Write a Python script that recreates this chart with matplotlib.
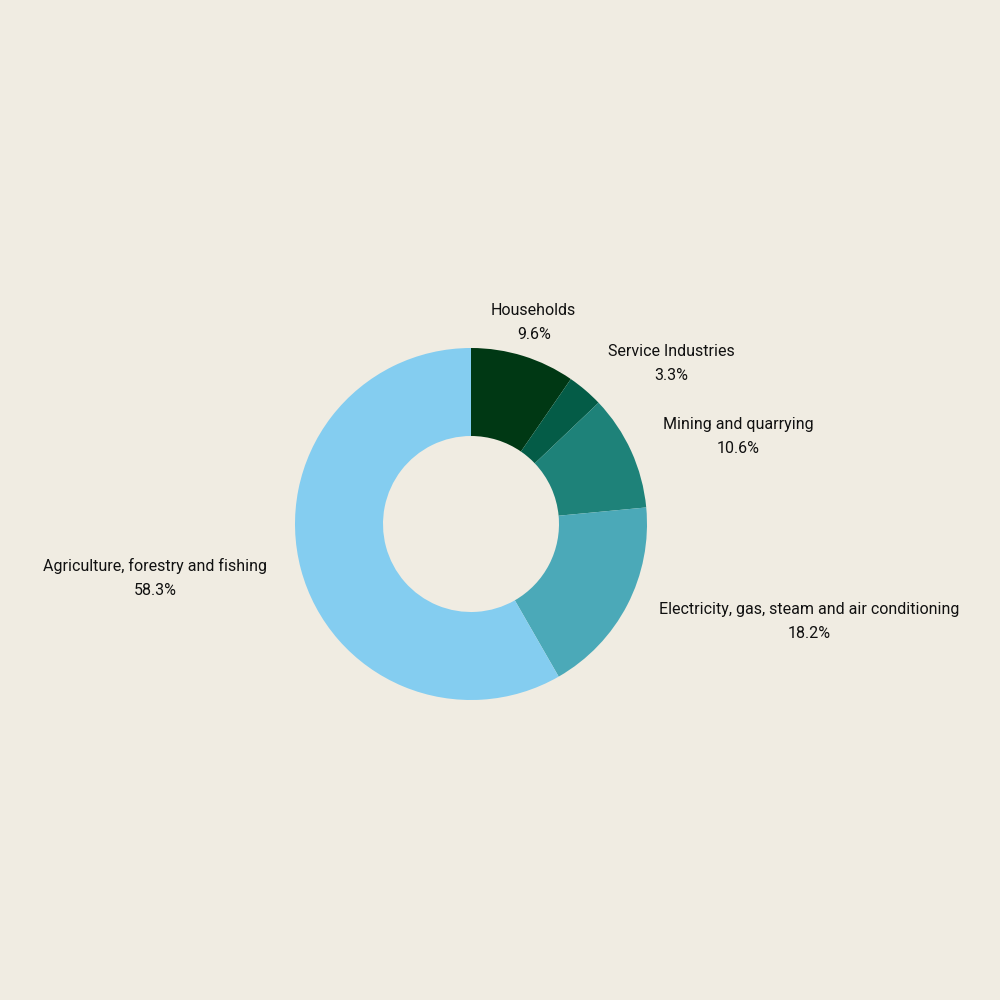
import numpy as np
import matplotlib.pyplot as plt

labels = ["Households", "Service Industries", "Mining and quarrying",
          "Electricity, gas, steam and air conditioning",
          "Agriculture, forestry and fishing"]
shares = [9.6, 3.3, 10.6, 18.2, 58.3]
colors = ["#003814", "#045c47", "#1e8279", "#4ba9b8", "#84cdf0"]
bg = "#f0ece2"

plt.rcParams['font.family'] = ['Roboto', 'DejaVu Sans']

fig = plt.figure(figsize=(10, 10), dpi=100, facecolor=bg)
ax = fig.add_axes([0, 0, 1, 1])
ax.set_facecolor(bg)

R = 176.0  # radius in pixels
cx, cy = 471, 476
wedges, _ = ax.pie(shares, colors=colors, startangle=90, counterclock=False,
                   radius=1, wedgeprops=dict(width=0.5, linewidth=0))
ax.set_xlim(-cx / R, (1000 - cx) / R)
ax.set_ylim(-cy / R, (1000 - cy) / R)
ax.set_aspect('equal')
ax.axis('off')

for w, lab, s in zip(wedges, labels, shares):
    ang = np.deg2rad((w.theta1 + w.theta2) / 2)
    x, y = 1.2 * np.cos(ang), 1.2 * np.sin(ang)
    if abs(np.cos(ang)) < 0.35:
        ha = 'center'
    elif x > 0:
        ha = 'left'
    else:
        ha = 'right'
    ax.text(x, y, f"{lab}\n{s}%", ha=ha, va='center', multialignment='center',
            fontsize=11.5, color='#111111', linespacing=1.75)

fig.savefig("out.png", facecolor=bg)
